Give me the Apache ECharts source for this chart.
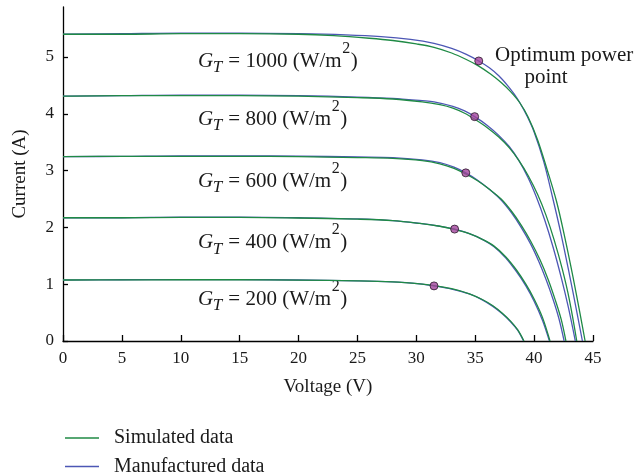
<!DOCTYPE html>
<html><head><meta charset="utf-8">
<script src="https://cdn.jsdelivr.net/npm/echarts@6/dist/echarts.min.js"></script>
<style>html,body{margin:0;padding:0;background:#fff}#c{width:639px;height:474px}</style>
</head><body><div id="c"></div>
<script>
// ---- data (Voltage V, Current A) ----
const xTickValues = [0,5,10,15,20,25,30,35,40,45];
const yTickValues = [0,1,2,3,4,5];
const irradiances = [1000,800,600,400,200];

const man1000 = [[0,5.40],[5,5.41],[10,5.42],[15,5.42],[20,5.41],[24,5.39],[27,5.36],[29.5,5.31],[31.5,5.24],[33,5.15],[34.2,5.05],[35.3,4.93],[36.2,4.81],[37.0,4.67],[37.7,4.51],[38.3,4.35],[38.8,4.19],[39.4,3.96],[40.0,3.68],[40.8,3.17],[41.6,2.50],[42.3,1.87],[43.0,1.17],[43.6,0.54],[44.1,0]];
const sim1000 = [[0,5.40],[5,5.40],[10,5.41],[15,5.41],[20,5.40],[23,5.375],[26,5.33],[28,5.29],[30,5.23],[31.5,5.17],[33,5.07],[34.2,4.96],[35.3,4.84],[36.3,4.70],[37.2,4.55],[38.0,4.39],[38.8,4.19],[39.5,3.94],[40.3,3.54],[41.1,3.02],[41.9,2.46],[42.6,1.83],[43.3,1.13],[43.9,0.48],[44.33,0]];
const man800 = [[0,4.31],[5,4.32],[10,4.33],[15,4.33],[20,4.32],[25,4.295],[28,4.27],[30.5,4.23],[31.5,4.21],[33.1,4.13],[34.1,4.05],[34.95,3.95],[36.0,3.80],[37.0,3.62],[37.9,3.42],[38.7,3.18],[39.5,2.87],[40.2,2.53],[40.9,2.13],[41.6,1.66],[42.3,1.12],[42.9,0.60],[43.5,0]];
const sim800 = [[0,4.31],[5,4.32],[10,4.32],[15,4.32],[20,4.31],[25,4.285],[28,4.26],[30.5,4.21],[32,4.16],[33.1,4.10],[34.1,4.01],[35,3.90],[36,3.76],[37,3.59],[37.9,3.40],[38.7,3.18],[39.5,2.91],[40.3,2.58],[41.0,2.22],[41.7,1.78],[42.4,1.26],[43.0,0.72],[43.62,0]];
const man600 = [[0,3.245],[5,3.25],[10,3.26],[15,3.26],[20,3.255],[25,3.24],[28,3.23],[30.5,3.19],[32,3.14],[33.2,3.06],[34.2,2.96],[35.2,2.83],[36.2,2.67],[37.2,2.48],[38.1,2.25],[38.9,2.00],[39.7,1.71],[40.4,1.40],[41.0,1.09],[41.6,0.74],[42.1,0.40],[42.55,0]];
const sim600 = [[0,3.245],[5,3.25],[10,3.25],[15,3.25],[20,3.245],[25,3.23],[28,3.215],[30.5,3.175],[32,3.12],[33.2,3.04],[34.2,2.94],[35.2,2.82],[36.2,2.67],[37.2,2.50],[38.1,2.28],[38.9,2.04],[39.7,1.76],[40.5,1.43],[41.2,1.08],[41.8,0.72],[42.3,0.38],[42.7,0]];
const man400 = [[0,2.17],[5,2.17],[10,2.18],[15,2.18],[20,2.17],[25,2.15],[28,2.12],[30.3,2.07],[32,2.02],[33.25,1.97],[34.5,1.89],[35.6,1.79],[36.6,1.66],[37.6,1.46],[38.5,1.22],[39.3,0.97],[40.0,0.70],[40.7,0.37],[41.3,0]];
const sim400 = [[0,2.17],[5,2.17],[10,2.175],[15,2.175],[20,2.165],[25,2.145],[28,2.12],[30.3,2.07],[32,2.02],[33.25,1.965],[34.5,1.89],[35.6,1.79],[36.6,1.67],[37.6,1.48],[38.5,1.25],[39.3,1.00],[40.0,0.74],[40.7,0.42],[41.35,0]];
const man200 = [[0,1.074],[5,1.078],[10,1.08],[15,1.08],[20,1.074],[25,1.06],[28,1.04],[30.3,1.005],[31.5,0.97],[33,0.915],[34.5,0.83],[35.6,0.725],[36.5,0.61],[37.3,0.48],[38.0,0.34],[38.6,0.19],[39.1,0]];
const sim200 = [[0,1.074],[5,1.075],[10,1.078],[15,1.078],[20,1.072],[25,1.058],[28,1.04],[30.3,1.005],[31.5,0.975],[33,0.92],[34.5,0.83],[35.6,0.73],[36.5,0.62],[37.3,0.49],[38.0,0.35],[38.6,0.20],[39.14,0]];
const mppPoints = [[35.3,4.93],[34.95,3.95],[34.2,2.96],[33.25,1.97],[31.5,0.97]];

const manufactured = [man1000, man800, man600, man400, man200];
const simulated = [sim1000, sim800, sim600, sim400, sim200];

// ---- styling ----
const FAM = '"Liberation Serif","DejaVu Serif",serif';
const GREEN = '#1f8a45';
const BLUE = '#4d57b5';
const INK = '#1a1a1a';

function curve(name, data, color){
  return {type:'line', name:name, data:data, symbol:'none', showSymbol:false,
    smooth:0.35, silent:true,
    lineStyle:{color:color, width:1.3}, itemStyle:{color:color}};
}
const series = [];
manufactured.forEach(d => series.push(curve('Manufactured data', d, BLUE)));
simulated.forEach(d => series.push(curve('Simulated data', d, GREEN)));
series.push({type:'scatter', name:'Optimum power point', data:mppPoints, symbol:'circle', symbolSize:8,
  itemStyle:{color:'#a2439c', borderColor:'#2a1a2a', borderWidth:1}, z:5, silent:true});

// ---- annotation text (built from pieces, measured) ----
const mctx = document.createElement('canvas').getContext('2d');
function tw(text, size, italic){ mctx.font = (italic?'italic ':'') + size + 'px ' + FAM; return mctx.measureText(text).width; }
const MID = 0.3375; // middle-baseline offset (em) for Liberation Serif
function piece(text, x, baseline, size, italic){
  return {type:'text', x:x, y:baseline - MID*size, silent:true,
    style:{text:text, fontFamily:FAM, fontSize:size, fontStyle:italic?'italic':'normal', fill:INK, verticalAlign:'middle', align:'left'}};
}
const baselines = [68.3, 126.7, 188.3, 250, 306.7];
const ANN = 21, SUB = 17;
const graphics = [];
irradiances.forEach((g, k) => {
  const b = baselines[k];
  let x = 198;
  graphics.push(piece('G', x, b, ANN, true));
  x += tw('G', ANN, true) - 0.5;
  graphics.push(piece('T', x, b + 5, SUB, true));
  x += tw('T', SUB, true) + 1;
  const rest = ' = ' + g + ' (W/m';
  graphics.push(piece(rest, x, b, ANN, false));
  x += tw(rest, ANN, false) + 0.5;
  graphics.push(piece('2', x, b - 14.5, SUB - 1, false));
  x += tw('2', SUB - 1, false) + 0.5;
  graphics.push(piece(')', x, b, ANN, false));
});
graphics.push(piece('Optimum power', 495, 63, 21, false));
graphics.push(piece('point', 546 - tw('point', 21, false)/2, 85, 21, false));

const axisLineStyle = {color:'#000', width:1.3};
const option = {
  animation:false,
  backgroundColor:'#fff',
  grid:{left:63, right:46, top:7, bottom:133, containLabel:false},
  legend:{
    data:[{name:'Simulated data', icon:'rect'},{name:'Manufactured data', icon:'rect'}],
    orient:'vertical', left:65, top:428, height:50, padding:0, itemWidth:34, itemHeight:1.6, itemGap:8.5,
    textStyle:{fontFamily:FAM, fontSize:20, lineHeight:18, color:INK, padding:[0,0,0,10]},
    selectedMode:false
  },
  xAxis:{
    type:'value', min:0, max:45, interval:5,
    name:'Voltage (V)', nameLocation:'middle', nameGap:37,
    nameTextStyle:{fontFamily:FAM, fontSize:19, color:INK},
    axisLine:{show:true, lineStyle:axisLineStyle},
    axisTick:{show:true, inside:true, length:6, lineStyle:axisLineStyle, customValues:xTickValues},
    axisLabel:{fontFamily:FAM, fontSize:17, color:INK, margin:9, customValues:xTickValues},
    splitLine:{show:false}
  },
  yAxis:{
    type:'value', min:0, max:5.88, interval:1,
    name:'Current (A)', nameLocation:'middle', nameGap:33,
    nameTextStyle:{fontFamily:FAM, fontSize:19, color:INK},
    axisLine:{show:true, lineStyle:axisLineStyle},
    axisTick:{show:true, inside:true, length:5, lineStyle:axisLineStyle, customValues:yTickValues},
    axisLabel:{fontFamily:FAM, fontSize:17, color:INK, margin:9, customValues:yTickValues},
    splitLine:{show:false}
  },
  series:series,
  graphic:graphics
};
const chart = echarts.init(document.getElementById('c'), null, {renderer:'canvas'});
chart.setOption(option);
</script></body></html>
